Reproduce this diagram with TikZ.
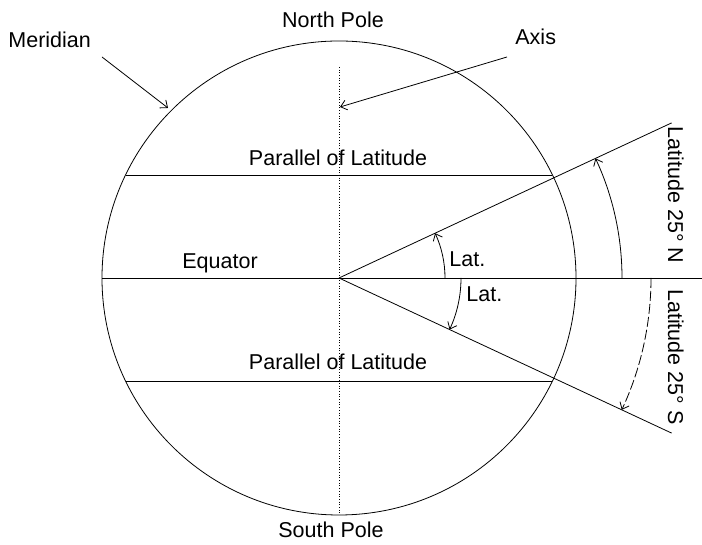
\documentclass[tikz,border=0pt]{standalone}
\usepackage{fontspec}
\setmainfont{Liberation Sans}
\usetikzlibrary{arrows.meta,calc}
\begin{document}
\begin{tikzpicture}[x=1pt,y=1pt,line width=0.8pt,
  lbl/.style={inner sep=0pt,font=\fontsize{21.5}{25}\selectfont},
  barb/.style={-{Straight Barb[length=6pt,width=10pt]}},
  axisline/.style={dotted,line width=0.7pt}]
\useasboundingbox (0,0) rectangle (702,545);
\coordinate (C) at (339,267);
% globe
\draw (C) circle (237);
% equator and axis
\coordinate (eqL) at (102,267);
\coordinate (eqR) at (702,267);
\draw (eqL) -- (eqR);
\coordinate (axT) at (339,478);
\coordinate (axB) at (339,30);
\draw[axisline] (axT) -- (axB);
% parallels
\coordinate (p1L) at (125.6,370); \coordinate (p1R) at (552.4,370);
\coordinate (p2L) at (125.6,164); \coordinate (p2R) at (552.4,164);
\draw (p1L) -- (p1R);
\draw (p2L) -- (p2R);
% latitude lines
\coordinate (upE) at ($(C)+(25:367)$);
\coordinate (loE) at ($(C)+(-25:367)$);
\draw (C) -- (upE);
\draw (C) -- (loE);
% angle arcs
\draw[barb] ($(C)+(0:106)$) arc[start angle=0,end angle=25,radius=106];
\draw[barb] ($(C)+(0:122)$) arc[start angle=0,end angle=-25,radius=122];
\draw[barb] ($(C)+(0:283)$) arc[start angle=0,end angle=25,radius=283];
\draw[barb,dashed,dash pattern=on 10pt off 3pt] ($(C)+(0:312)$) arc[start angle=0,end angle=-25,radius=312];
% pointer arrows
\coordinate (axS) at (507,488);
\coordinate (axE) at (340,438);
\draw[barb] (axS) -- (axE);
\coordinate (meS) at (102,488);
\coordinate (meE) at (168,437);
\draw[barb] (meS) -- (meE);
% labels
\node[lbl,anchor=base] (np) at (333,517) {North Pole};
\node[lbl,anchor=base] (sp) at (331,7) {South Pole};
\node[lbl,anchor=base west] (mer) at (8,497) {Meridian};
\node[lbl,anchor=base west] (axl) at (515,500) {Axis};
\node[lbl,anchor=base] (pl1) at (338,379) {Parallel of Latitude};
\node[lbl,anchor=base] (pl2) at (338,175) {Parallel of Latitude};
\node[lbl,anchor=base west] (eq) at (182,276) {Equator};
\node[lbl,anchor=base west] (lat1) at (449,278) {Lat.};
\node[lbl,anchor=base west] (lat2) at (466,243) {Lat.};
\node[lbl,anchor=base,rotate=-90] (ln) at (668,350) {Latitude 25° N};
\node[lbl,anchor=base,rotate=-90] (ls) at (668,188) {Latitude 25° S};
\end{tikzpicture}
\end{document}
